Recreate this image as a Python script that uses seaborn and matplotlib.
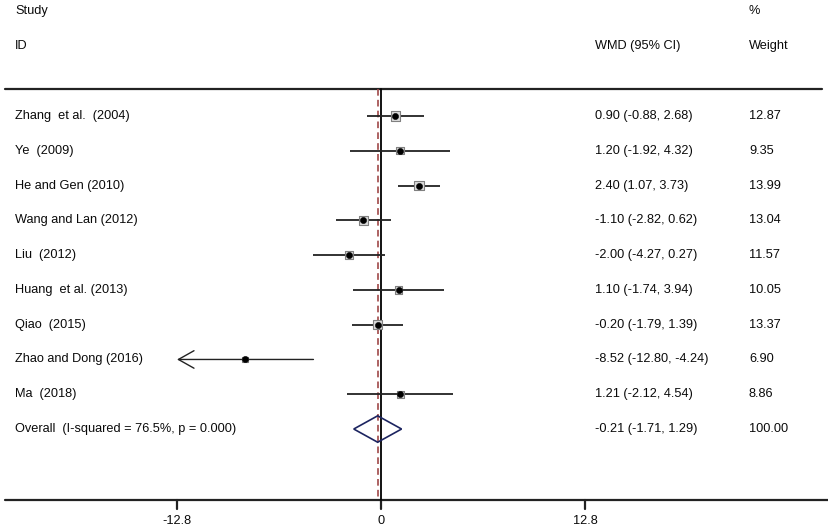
import numpy as np
import pandas as pd
import matplotlib
matplotlib.use("Agg")
import matplotlib.pyplot as plt
import seaborn as sns

# Veriler
studies = ["Zhang  et al.  (2004)", "Ye  (2009)", "He and Gen (2010)", "Wang and Lan (2012)",
           "Liu  (2012)", "Huang  et al. (2013)", "Qiao  (2015)", "Zhao and Dong (2016)", "Ma  (2018)"]
wmd = [0.90, 1.20, 2.40, -1.10, -2.00, 1.10, -0.20, -8.52, 1.21]
lower = [-0.88, -1.92, 1.07, -2.82, -4.27, -1.74, -1.79, -12.80, -2.12]
upper = [2.68, 4.32, 3.73, 0.62, 0.27, 3.94, 1.39, -4.24, 4.54]
weights = [12.87, 9.35, 13.99, 13.04, 11.57, 10.05, 13.37, 6.90, 8.86]
overall_label = "Overall  (I-squared = 76.5%, p = 0.000)"
overall = [-0.21, -1.71, 1.29]
ticks = [-12.8, 0, 12.8]

df = pd.DataFrame({"study": studies, "wmd": wmd, "lo": lower, "hi": upper, "w": weights})
df["row"] = np.arange(len(df))

sns.set_theme(style="white")
plt.rcParams["font.family"] = ["Liberation Sans", "DejaVu Sans"]

fig = plt.figure(figsize=(8.29, 5.31), dpi=100)
ax = fig.add_axes([0, 0, 1, 1])
ax.set_xlim(-23.907, 28.11)
ax.set_ylim(11.932, -3.335)
ax.axis("off")

xmin_axis = ticks[0]
top_y = -0.78
bot_y = 11.04
txt = "#0a0a0a"
fs = 9.2

# Çizgiler
ax.plot([0.006, 0.992], [top_y, top_y], transform=ax.get_yaxis_transform(), color="#222222", lw=1.6)
ax.plot([0.006, 1.0], [bot_y, bot_y], transform=ax.get_yaxis_transform(), color="#222222", lw=1.6)
for t in ticks:
    ax.plot([t, t], [bot_y, bot_y + 0.25], color="#222222", lw=1.6)
    ax.text(t, 11.65, f"{t:g}", ha="center", va="center", fontsize=fs, color=txt)
ax.plot([0, 0], [top_y, bot_y], color="black", lw=1.3)
ax.plot([overall[0], overall[0]], [top_y, bot_y], color="#a04848", lw=1.2, ls=(0, (4, 2.5)))

# Güven aralıkları
clipped = df["lo"] <= xmin_axis
ax.hlines(df.loc[~clipped, "row"], df.loc[~clipped, "lo"], df.loc[~clipped, "hi"], color="#222222", lw=1.3)
for _, r in df[clipped].iterrows():
    ax.annotate("", xy=(xmin_axis, r["row"]), xytext=(r["hi"], r["row"]),
                arrowprops=dict(arrowstyle="->,head_length=0.8,head_width=0.45", lw=1.0,
                                color="#222222", mutation_scale=14, shrinkA=0, shrinkB=0))

# Ağırlık kutuları ve noktalar
sns.scatterplot(data=df, x="wmd", y="row", size="w", sizes=(18, 48), size_norm=(6.9, 13.99),
                marker="s", color="#dcdcdc", edgecolor="#808080", linewidth=0.8,
                legend=False, ax=ax, zorder=3)
sns.scatterplot(data=df, x="wmd", y="row", color="black", s=20, edgecolor="black",
                legend=False, ax=ax, zorder=4)

# Genel elmas
oy = len(df)
ax.fill([overall[1], overall[0], overall[2], overall[0]],
        [oy, oy - 0.38, oy, oy + 0.38], facecolor="none", edgecolor="#1c2460", lw=1.2, zorder=5)

# Metinler
tr = ax.get_yaxis_transform()
ax.text(15 / 829, -3.02, "Study", transform=tr, fontsize=fs, va="center", color=txt)
ax.text(15 / 829, -2.01, "ID", transform=tr, fontsize=fs, va="center", color=txt)
ax.text(595 / 829, -2.01, "WMD (95% CI)", transform=tr, fontsize=fs, va="center", color=txt)
ax.text(749 / 829, -3.02, "%", transform=tr, fontsize=fs, va="center", color=txt)
ax.text(749 / 829, -2.01, "Weight", transform=tr, fontsize=fs, va="center", color=txt)

for _, r in df.iterrows():
    ax.text(15 / 829, r["row"], r["study"], transform=tr, fontsize=fs, va="center", color=txt)
    ax.text(595 / 829, r["row"], f"{r['wmd']:.2f} ({r['lo']:.2f}, {r['hi']:.2f})",
            transform=tr, fontsize=fs, va="center", color=txt)
    ax.text(749 / 829, r["row"], f"{r['w']:.2f}", transform=tr, fontsize=fs, va="center", color=txt)

ax.text(15 / 829, oy, overall_label, transform=tr, fontsize=fs, va="center", color=txt)
ax.text(595 / 829, oy, f"{overall[0]:.2f} ({overall[1]:.2f}, {overall[2]:.2f})",
        transform=tr, fontsize=fs, va="center", color=txt)
ax.text(749 / 829, oy, "100.00", transform=tr, fontsize=fs, va="center", color=txt)

fig.savefig("out.png", dpi=100)
